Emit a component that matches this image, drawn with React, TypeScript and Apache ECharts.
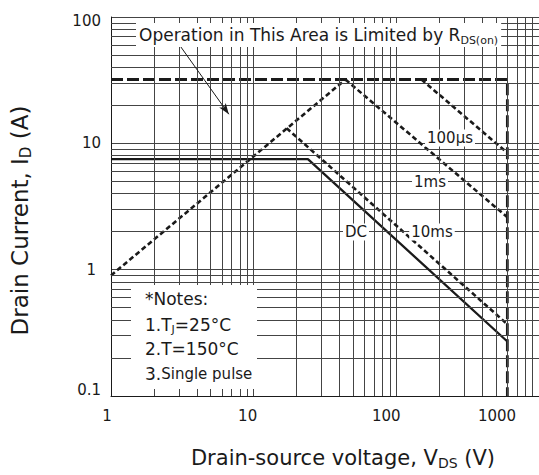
import React, { useEffect, useRef } from "react";
import * as echarts from "echarts";

// ---- axis ticks ----
const xTicks = [1, 10, 100, 1000];
const yTicks = [0.1, 1, 10, 100];
const minorSteps = [2, 3, 4, 5, 6, 7, 8, 9];
const xDecades = [1, 10, 100];
const yDecades = [0.1, 1, 10];

// ---- SOA boundaries: [V_DS (V), I_D (A)] ----
const limitIdmVdss = [[1, 32], [600, 32], [600, 0.1]];
const rdsOnLimit = [[1, 0.9], [44, 32]];
const pulse100us = [[150, 32], [600, 8.4]];
const pulse1ms = [[44, 32], [600, 2.6]];
const pulse10ms = [[17, 13.2], [600, 0.37]];
const dcLine = [[1, 7.5], [24, 7.5], [600, 0.27]];
const arrowFrom = [2.9, 64];
const arrowTo = [6.7, 17];

const FONT = "DejaVu Sans";
const INK = "#1a1a1a";
const GRID = "#444";

const xMinor = xDecades.flatMap((d) => minorSteps.map((s) => s * d));
const yMinor = yDecades.flatMap((d) => minorSteps.map((s) => +(s * d).toPrecision(3)));

const tickIndex = (ticks: number[], v: number) =>
  ticks.findIndex((t) => Math.abs(Math.log10(t) - Math.log10(v)) < 1e-6);

const xShift = [8, 12, 20, 84];
const yPad = [[0, 0, 13, 0], [0, 5, 0, 0], [0, 0, 0, 0], [8, 0, 0, 0]];

const tickStyle = { fontFamily: FONT, fontSize: 15, color: INK };

const xRich: Record<string, any> = {};
xTicks.forEach((_, i) => (xRich["x" + i] = { ...tickStyle, padding: [0, xShift[i], 0, 0] }));
const yRich: Record<string, any> = {};
yTicks.forEach((_, i) => (yRich["y" + i] = { ...tickStyle, padding: yPad[i] }));

const nameRich = (size: number, sub: number) => ({
  a: { fontFamily: FONT, fontSize: size, color: INK, lineHeight: size + 4, verticalAlign: "middle" },
  s: { fontFamily: FONT, fontSize: sub, color: INK, lineHeight: sub, verticalAlign: "bottom" },
});

const dashed = (data: number[][], name: string) => ({
  name,
  type: "line",
  data,
  symbol: "none",
  silent: true,
  z: 3,
  lineStyle: { color: INK, width: 2.6, type: [5, 3] },
});

const txt = (x: number, y: number, text: string, rich: any, extra: any = {}) => ({
  type: "text",
  z: 100,
  x,
  y,
  silent: true,
  style: {
    text,
    rich,
    fill: INK,
    fontFamily: FONT,
    align: "left",
    textAlign: "left",
    verticalAlign: "middle",
    textVerticalAlign: "middle",
    ...extra,
  },
});

const labelRich = (size: number) => ({
  a: { fontFamily: FONT, fontSize: size, color: INK },
});

const option: any = {
  animation: false,
  backgroundColor: "#fff",
  grid: { left: 110, right: -2, top: 17, bottom: 77, containLabel: false },
  xAxis: {
    type: "log",
    logBase: 10,
    min: 1,
    max: 1000,
    name: "{a|Drain-source voltage, V}{s|DS}{a| (V)}",
    nameLocation: "middle",
    nameGap: 49,
    nameTextStyle: { padding: [0, 0, 0, 36], rich: nameRich(21, 14) },
    axisLine: { show: true, onZero: false, lineStyle: { color: INK, width: 1 } },
    axisTick: { show: false },
    minorTick: { show: false },
    minorSplitLine: { show: false },
    splitLine: { show: true, lineStyle: { color: GRID, width: 1 } },
    axisLabel: {
      margin: 12,
      formatter: (v: number) => {
        const i = tickIndex(xTicks, v);
        return i < 0 ? "" : `{x${i}|${xTicks[i]}}`;
      },
      rich: xRich,
    },
  },
  yAxis: {
    type: "log",
    logBase: 10,
    min: 0.1,
    max: 100,
    name: "{a|Drain Current, I}{s|D}{a| (A)}",
    nameLocation: "middle",
    nameGap: 78,
    nameTextStyle: { padding: [0, 28, 0, 0], rich: nameRich(23, 15) },
    axisLine: { show: true, onZero: false, lineStyle: { color: INK, width: 1 } },
    axisTick: { show: false },
    minorTick: { show: false },
    minorSplitLine: { show: false },
    splitLine: { show: true, lineStyle: { color: GRID, width: 1 } },
    axisLabel: {
      margin: 10,
      formatter: (v: number) => {
        const i = tickIndex(yTicks, v);
        return i < 0 ? "" : `{y${i}|${yTicks[i]}}`;
      },
      rich: yRich,
    },
  },
  series: [
    {
      name: "minor grid",
      type: "line",
      data: [],
      z: 1,
      silent: true,
      markLine: {
        silent: true,
        symbol: ["none", "none"],
        label: { show: false },
        emphasis: { disabled: true },
        lineStyle: { color: GRID, width: 1, type: "solid" },
        data: [
          ...xMinor.map((v) => ({ xAxis: v })),
          ...yMinor.map((v) => ({ yAxis: v })),
        ],
      },
    },
    {
      name: "I_DM / V_DSS limit",
      type: "line",
      data: limitIdmVdss,
      symbol: "none",
      silent: true,
      z: 3,
      lineStyle: { color: INK, width: 2.8, type: [12, 4] },
    },
    dashed(rdsOnLimit, "RDS(on) limit"),
    dashed(pulse100us, "100µs"),
    dashed(pulse1ms, "1ms"),
    dashed(pulse10ms, "10ms"),
    {
      name: "DC",
      type: "line",
      data: dcLine,
      symbol: "none",
      silent: true,
      z: 3,
      lineStyle: { color: INK, width: 2.3, type: "solid" },
    },
    {
      name: "arrow",
      type: "line",
      data: [],
      z: 4,
      silent: true,
      markLine: {
        silent: true,
        symbol: ["none", "arrow"],
        symbolSize: [6, 11],
        label: { show: false },
        emphasis: { disabled: true },
        lineStyle: { color: INK, width: 1, type: "solid" },
        data: [[{ coord: arrowFrom }, { coord: arrowTo }]],
      },
    },
  ],
  graphic: [
    txt(
      136,
      35,
      "{a|Operation in This Area is Limited by R}{s|DS(on)}",
      {
        a: { fontFamily: FONT, fontSize: 17, color: INK, lineHeight: 22, verticalAlign: "middle" },
        s: { fontFamily: FONT, fontSize: 11, color: INK, lineHeight: 12, verticalAlign: "bottom" },
      },
      { backgroundColor: "#fff", padding: [1, 3, 1, 3] }
    ),
    txt(450, 138, "{a|100µs}", labelRich(15), { align: "center", textAlign: "center", backgroundColor: "#fff", padding: [1, 2] }),
    txt(430, 182, "{a|1ms}", labelRich(15), { align: "center", textAlign: "center", backgroundColor: "#fff", padding: [1, 2] }),
    txt(432, 232, "{a|10ms}", labelRich(15), { align: "center", textAlign: "center", backgroundColor: "#fff", padding: [1, 2] }),
    txt(356, 232, "{a|DC}", labelRich(15), { align: "center", textAlign: "center", backgroundColor: "#fff", padding: [1, 2] }),
    {
      type: "rect",
      z: 99,
      silent: true,
      shape: { x: 131, y: 285, width: 126, height: 104 },
      style: { fill: "#fff" },
    },
    txt(145, 299, "{a|*Notes:}", labelRich(17)),
    txt(145, 325, "{a|1.T}{s|J}{a|=25°C}", {
      a: { fontFamily: FONT, fontSize: 17, color: INK, lineHeight: 20, verticalAlign: "middle" },
      s: { fontFamily: FONT, fontSize: 11, color: INK, lineHeight: 12, verticalAlign: "bottom" },
    }),
    txt(145, 349, "{a|2.T=150°C}", labelRich(17)),
    txt(145, 374, "{a|3.}{b|Single pulse}", {
      a: { fontFamily: FONT, fontSize: 17, color: INK, lineHeight: 20, verticalAlign: "middle" },
      b: { fontFamily: FONT, fontSize: 15, color: INK, lineHeight: 20, verticalAlign: "middle" },
    }),
  ],
};

export default function App() {
  const ref = useRef<HTMLDivElement>(null);
  useEffect(() => {
    if (!ref.current) return;
    const chart = echarts.init(ref.current, null, { renderer: "svg" });
    chart.setOption(option);
    return () => chart.dispose();
  }, []);
  return (
    <div
      ref={ref}
      style={{ position: "absolute", left: 0, top: 0, width: 539, height: 475, background: "#fff" }}
    />
  );
}
